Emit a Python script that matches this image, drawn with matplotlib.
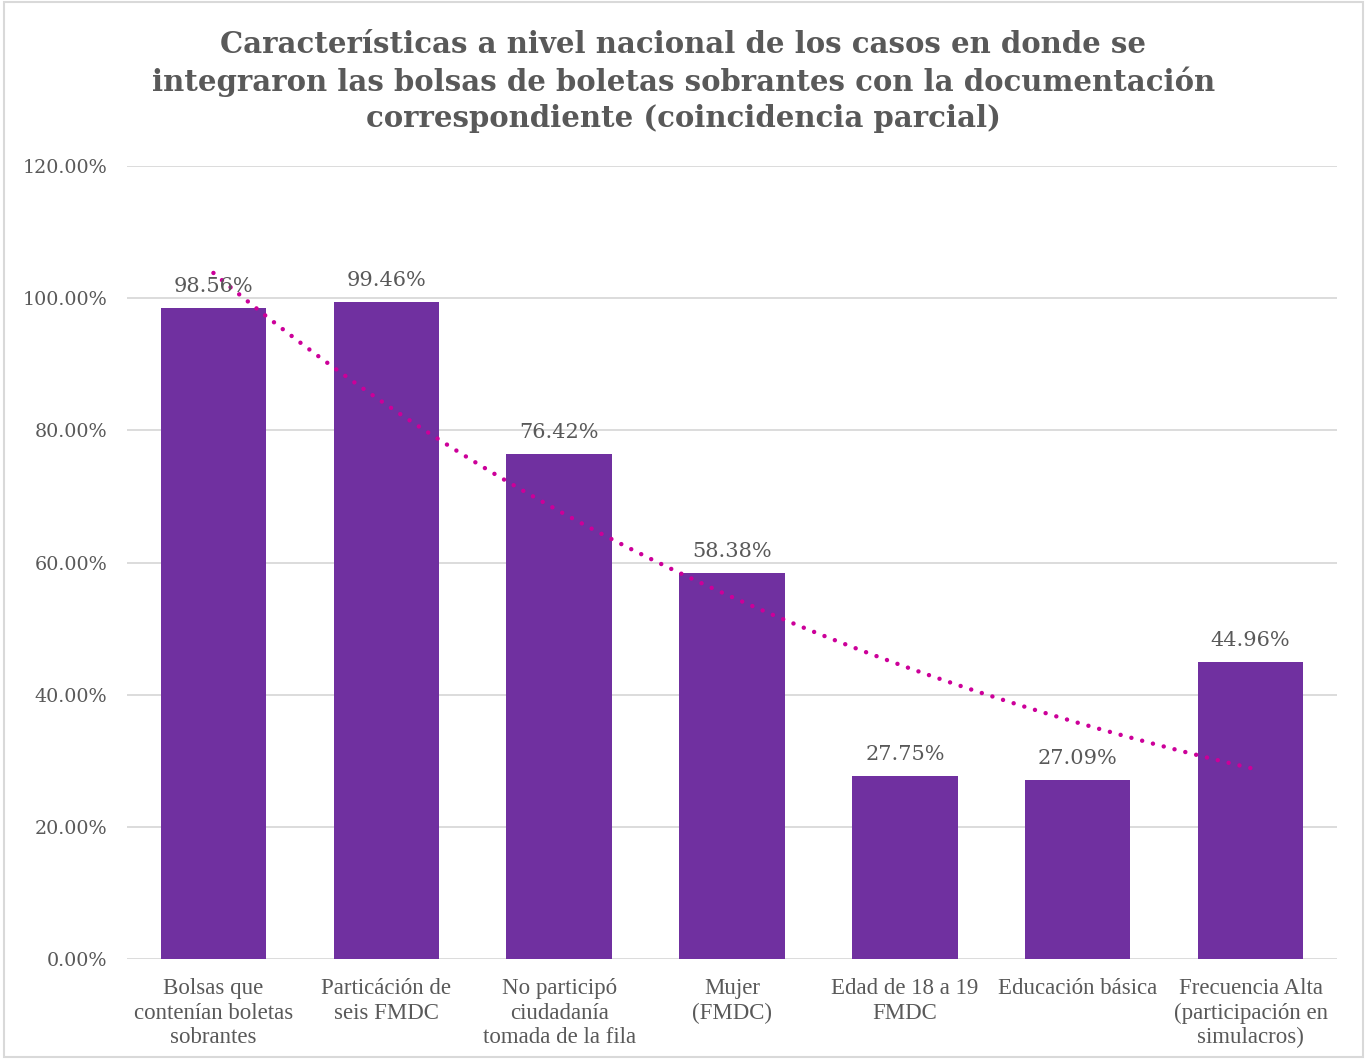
import numpy as np
import matplotlib
matplotlib.use("Agg")
import matplotlib.pyplot as plt
from matplotlib.patches import Rectangle
from matplotlib.ticker import FuncFormatter

categories = [
    "Bolsas que\ncontenían boletas\nsobrantes",
    "Particáción de\nseis FMDC",
    "No participó\nciudadanía\ntomada de la fila",
    "Mujer\n(FMDC)",
    "Edad de 18 a 19\nFMDC",
    "Educación básica",
    "Frecuencia Alta\n(participación en\nsimulacros)",
]
values = [98.56, 99.46, 76.42, 58.38, 27.75, 27.09, 44.96]
labels = ["98.56%", "99.46%", "76.42%", "58.38%", "27.75%", "27.09%", "44.96%"]
yticks = [0, 20, 40, 60, 80, 100, 120]

title = ("Características a nivel nacional de los casos en donde se\n"
         "integraron las bolsas de boletas sobrantes con la documentación\n"
         "correspondiente (coincidencia parcial)")

bar_color = "#7030A0"
trend_color = "#CC0099"
text_color = "#595959"

fig = plt.figure(figsize=(13.67, 10.59), dpi=100)
fig.patch.set_facecolor("white")
ax = fig.add_axes([127 / 1367, 1 - 959 / 1059, 1210 / 1367, (959 - 166) / 1059])

x = np.arange(len(values))
ax.bar(x, values, width=0.61, color=bar_color, zorder=3)

# exponential trendline fitted like Excel does
xs = x + 1
b, lna = np.polyfit(xs, np.log(np.array(values) / 100), 1)
xt = np.linspace(1, len(values), 300)
yt = np.exp(lna + b * xt) * 100
ax.plot(xt - 1, yt, linestyle=(0, (0.01, 2.5)), color=trend_color, linewidth=3.2,
        dash_capstyle="round", zorder=4)

for xi, v, lab in zip(x, values, labels):
    ax.text(xi, v + 1.8, lab, ha="center", va="bottom", fontsize=15,
            color=text_color, family="DejaVu Serif", zorder=5)

ax.set_xlim(-0.5, len(values) - 0.5)
ax.set_ylim(0, 120)
ax.set_yticks(yticks)
ax.yaxis.set_major_formatter(FuncFormatter(lambda v, p: f"{v:.2f}%"))
ax.grid(axis="y", color="#D9D9D9", linewidth=1.3, zorder=0)
for s in ax.spines.values():
    s.set_visible(False)
ax.tick_params(axis="y", length=0, pad=14, labelsize=13.8, labelcolor=text_color)
ax.tick_params(axis="x", length=0, pad=14)
for t in ax.get_yticklabels():
    t.set_family("DejaVu Serif")
ax.set_xticks(x)
ax.set_xticklabels(categories, fontsize=16.5, color=text_color,
                   family="Liberation Serif", linespacing=1.2)

fig.text(0.5, 1 - 81.5 / 1059, title, ha="center", va="center", fontsize=21,
         fontweight="bold", color=text_color, family="DejaVu Serif",
         linespacing=1.3)

fig.patches.append(Rectangle((0.003, 0.002), 0.994, 0.996, transform=fig.transFigure,
                             fill=False, edgecolor="#D9D9D9", linewidth=1.5))

fig.savefig("out.png", dpi=100)
